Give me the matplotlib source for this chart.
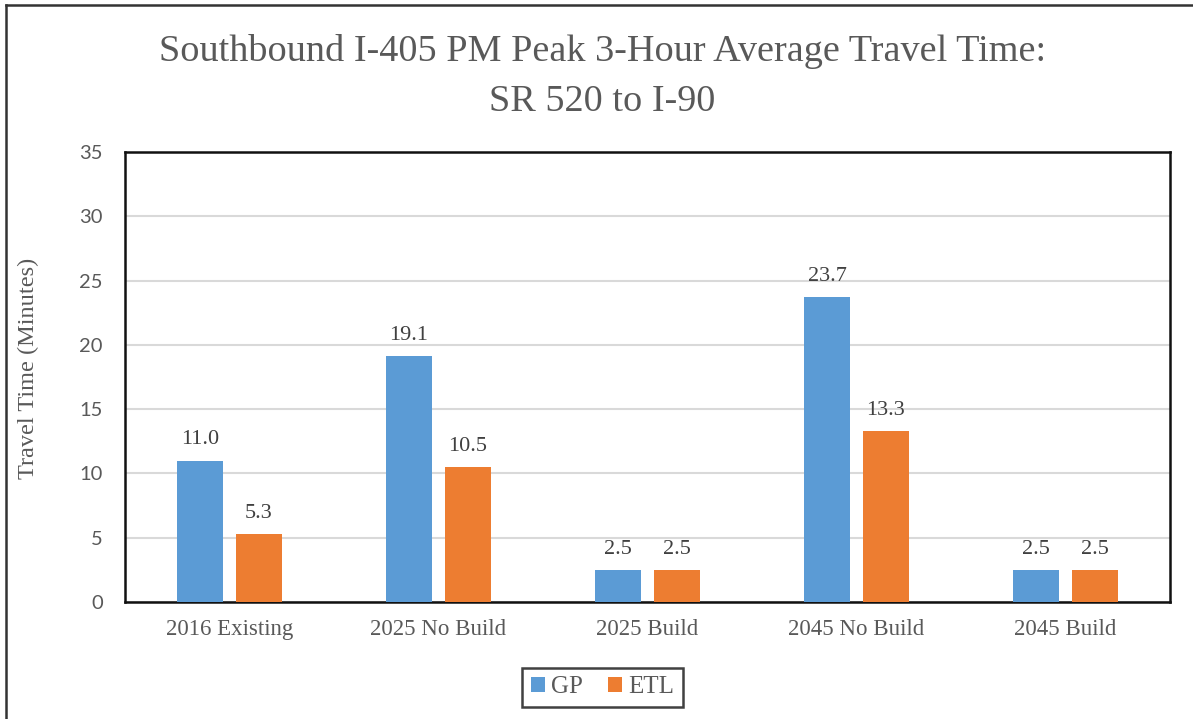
import numpy as np
import matplotlib.pyplot as plt
from matplotlib.lines import Line2D

categories = ["2016 Existing", "2025 No Build", "2025 Build", "2045 No Build", "2045 Build"]
gp_values = [11.0, 19.1, 2.5, 23.7, 2.5]
etl_values = [5.3, 10.5, 2.5, 13.3, 2.5]
series_names = ["GP", "ETL"]
y_ticks = [0, 5, 10, 15, 20, 25, 30, 35]

plt.rcParams["font.family"] = ["Liberation Serif", "DejaVu Serif"]
text_color = "#595959"

fig = plt.figure(figsize=(11.93, 7.19), dpi=100)
ax = fig.add_axes([0.1048, 0.1627, 0.8759, 0.6259])

x = np.arange(len(categories))
offset = 0.141
width = 0.22
bars_gp = ax.bar(x - offset, gp_values, width, color="#5B9BD5", label=series_names[0], zorder=3)
bars_etl = ax.bar(x + offset, etl_values, width, color="#ED7D31", label=series_names[1], zorder=3)

for bars in (bars_gp, bars_etl):
    ax.bar_label(bars, fmt="%.1f", padding=8, fontsize=16, color="#404040")

ax.set_xlim(-0.5, len(categories) - 0.5)
ax.set_ylim(0, 35)
ax.set_yticks(y_ticks)
ax.set_xticks(x)
ax.set_xticklabels(categories)
ax.tick_params(axis="both", length=0, labelcolor=text_color)
ax.tick_params(axis="x", pad=12, labelsize=16.5)
ax.tick_params(axis="y", pad=16, labelsize=14.5)
for lbl in ax.get_yticklabels():
    lbl.set_fontfamily(["Lato", "DejaVu Sans"])
ax.yaxis.grid(True, color="#d9d9d9", linewidth=1.5, zorder=0)
ax.set_axisbelow(True)
for s in ax.spines.values():
    s.set_color("#111111")
    s.set_linewidth(1.8)

ax.set_ylabel("Travel Time (Minutes)", fontsize=17.5, color=text_color)
ax.yaxis.set_label_coords(-0.082, 0.52)

fig.text(0.505, 0.928, "Southbound I-405 PM Peak 3-Hour Average Travel Time:",
         ha="center", va="center", fontsize=27.5, color=text_color)
fig.text(0.505, 0.859, "SR 520 to I-90",
         ha="center", va="center", fontsize=27.5, color=text_color)

leg = fig.legend(loc="center", bbox_to_anchor=(0.505, 0.044), ncol=2, fontsize=18,
                 frameon=True, fancybox=False, edgecolor="#111111",
                 handlelength=0.55, handleheight=0.55, handletextpad=0.25, columnspacing=1.0,
                 borderpad=0.35)
leg.get_frame().set_linewidth(1.8)
for t in leg.get_texts():
    t.set_color(text_color)

# outer border (top and left edges visible in the source)
fig.add_artist(Line2D([0.005, 1.0], [0.993, 0.993], color="#333333", linewidth=1.8, transform=fig.transFigure))
fig.add_artist(Line2D([0.005, 0.005], [0.0, 0.993], color="#333333", linewidth=1.8, transform=fig.transFigure))

fig.savefig("out.png", dpi=100)
